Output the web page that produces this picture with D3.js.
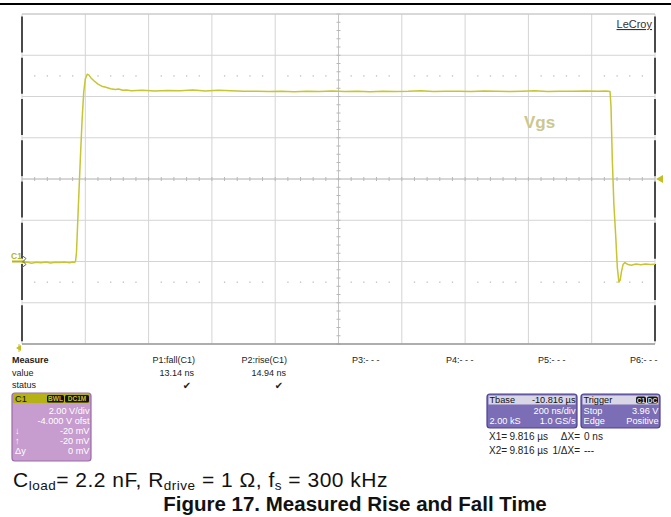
<!DOCTYPE html>
<html>
<head>
<meta charset="utf-8">
<script src="https://cdn.jsdelivr.net/npm/d3@7"></script>
<style>
  body{margin:0;background:#fff;}
  svg{display:block;font-family:"Liberation Sans",Arial,sans-serif;}
</style>
</head>
<body>
<svg id="scope" width="671" height="517"></svg>
<script>
/* ----- data ------------------------------------------------- */
// time in ns from left edge of screen (200 ns/div), volts (2 V/div, -4 V offset)
const traceT = [0,15,30,45,60,75,90,105,120,135,150,160,166,169,172,175,180,185,190,195,200,206,211,218,228,240,252,265,280,295,305,318,330,345,
  380,420,460,500,540,580,620,660,700,740,780,820,860,900,940,980,1020,1060,1100,1140,1180,1220,1260,1300,1340,1380,1420,
  1460,1500,1540,1580,1620,1660,1700,1740,1780,1820,1845,1858,1861,1865,1870,1876,1881,1886,1890,1894,1899,1905,1915,1925,1940,1955,1970,1985,2000];
const traceV = [-0.05,-0.02,-0.08,-0.04,-0.06,-0.02,-0.07,-0.04,-0.05,-0.03,-0.06,-0.02,-0.04,0.0,0.4,1.5,3.4,5.2,6.9,8.2,8.85,9.08,9.05,8.9,8.75,8.6,8.5,8.45,8.38,8.34,8.36,8.3,8.31,8.28,
  8.3,8.27,8.29,8.28,8.31,8.27,8.3,8.28,8.25,8.26,8.24,8.25,8.23,8.26,8.24,8.27,8.24,8.25,8.23,8.26,8.24,8.25,8.28,8.24,8.25,8.26,8.24,
  8.27,8.25,8.24,8.26,8.28,8.24,8.26,8.25,8.27,8.26,8.27,8.24,7.5,5.0,2.8,1.2,-0.3,-1.0,-0.9,-0.5,-0.15,-0.05,-0.15,-0.18,-0.12,-0.16,-0.12,-0.15,-0.13];

const markerLevels = [9, -1];            // dotted level rows
const measHeads  = ['P1:fall(C1)','P2:rise(C1)','P3:- - -','P4:- - -','P5:- - -','P6:- - -'];
const measValues = ['13.14 ns','14.94 ns','','','',''];
const measOk     = [true,true,false,false,false,false];
const rowLabels  = ['Measure','value','status'];
const c1Rows     = [['','2.00 V/div'],['','-4.000 V ofst'],['↓','-20 mV'],['↑','-20 mV'],['Δy','0 mV']];
const tbaseRows  = [['Tbase','-10.816 µs'],['','200 ns/div'],['2.00 kS','1.0 GS/s']];
const trigRows   = [['Trigger',''],['Stop','3.96 V'],['Edge','Positive']];
const cursorRows = [['X1=','9.816 µs','ΔX=','0 ns'],['X2=','9.816 µs','1/ΔX=','---']];
const captionParts = [['C',0],['load',1],['= 2.2 nF, R',0],['drive',1],[' = 1 Ω, f',0],['s',1],[' = 300 kHz',0]];

/* ----- setup ------------------------------------------------ */
const svg = d3.select('#scope');
const L = 22, R = 655, T = 14, B = 344;
const x = d3.scaleLinear().domain([0,2000]).range([L,R]);
const y = d3.scaleLinear().domain([-4,12]).range([B,T]);
const TRACE = '#c6c534';

svg.append('line').attr('x1',0).attr('x2',671).attr('y1',4).attr('y2',4)
  .attr('stroke','#000').attr('stroke-width',2);

/* grid */
const g = svg.append('g');
g.selectAll('.vg').data(x.ticks(10)).join('line')
  .attr('x1',d=>x(d)).attr('x2',d=>x(d)).attr('y1',T).attr('y2',B)
  .attr('stroke','#d4d4d4').attr('stroke-width',1);
g.selectAll('.hg').data(y.ticks(8)).join('line')
  .attr('x1',L).attr('x2',R).attr('y1',d=>y(d)).attr('y2',d=>y(d))
  .attr('stroke','#d4d4d4').attr('stroke-width',1);

/* centre axes with minor ticks */
g.append('line').attr('x1',x(1000)).attr('x2',x(1000)).attr('y1',T).attr('y2',B)
  .attr('stroke','#c4c4c4');
g.append('line').attr('x1',L).attr('x2',R).attr('y1',y(4)).attr('y2',y(4))
  .attr('stroke','#c4c4c4');
g.selectAll('.ty').data(d3.range(-4,12.01,0.4)).join('line')
  .attr('x1',x(1000)-2).attr('x2',x(1000)+2).attr('y1',d=>y(d)).attr('y2',d=>y(d))
  .attr('stroke','#b8b8b8');
g.selectAll('.tx').data(d3.range(0,2000.1,40)).join('line')
  .attr('x1',d=>x(d)).attr('x2',d=>x(d)).attr('y1',y(4)-2).attr('y2',y(4)+2)
  .attr('stroke','#b8b8b8');

/* dotted level rows */
const minor = d3.range(0,2000,40).filter(t=>t%200!==0);
markerLevels.forEach(v=>{
  g.selectAll(null).data(minor).join('rect')
    .attr('x',d=>x(d)-0.6).attr('y',y(v)-0.6).attr('width',1.3).attr('height',1.3)
    .attr('fill','#bdbdbd');
});

/* frame */
g.append('line').attr('x1',L).attr('x2',R).attr('y1',T).attr('y2',T).attr('stroke','#c8c8c8');
g.append('line').attr('x1',L).attr('x2',R).attr('y1',B).attr('y2',B).attr('stroke','#9a9a9a').attr('stroke-width',1.5);
[L,R].forEach(px=>{
  g.append('line').attr('x1',px).attr('x2',px).attr('y1',T).attr('y2',B)
    .attr('stroke','#4a4a4a').attr('stroke-width',2).attr('stroke-dasharray','36,5.25')
    .attr('stroke-dashoffset',-2.6);
});

/* trace */
const pts = traceT.map((t,i)=>[t,traceV[i]]);
svg.append('path').datum(pts)
  .attr('fill','none').attr('stroke',TRACE).attr('stroke-width',1.5)
  .attr('stroke-linejoin','round')
  .attr('d',d3.line().x(d=>x(d[0])).y(d=>y(d[1])));

/* labels on screen */
svg.append('text').attr('x',524).attr('y',128).text('Vgs')
  .style('font-size','17px').style('font-weight','bold').style('fill','#cbc78f');
svg.append('text').attr('x',652).attr('y',28).attr('text-anchor','end').text('LeCroy')
  .style('font-size','11px').style('fill','#333').style('text-decoration','underline');

/* C1 ground marker */
svg.append('text').attr('x',11).attr('y',259).text('C1')
  .style('font-size','8.5px').style('font-weight','bold').style('fill','#b5b51c');
svg.append('line').attr('x1',12).attr('x2',25).attr('y1',y(0)).attr('y2',y(0))
  .attr('stroke','#b5b51c').attr('stroke-width',2);
svg.append('path').attr('d',`M22,${y(0)-6} L26,${y(0)-3} L23,${y(0)} L26,${y(0)+3} L22,${y(0)+6}`)
  .attr('fill','none').attr('stroke','#666').attr('stroke-width',1);

/* trigger markers */
svg.append('path').attr('d',`M${R+1},${y(4)} L${R+8},${y(4)-4} L${R+8},${y(4)+4}Z`).attr('fill','#c2c020');
svg.append('path').attr('d',`M16,348 L21,345 L21,351Z`).attr('fill','#c2c020');
svg.append('line').attr('x1',19).attr('x2',19).attr('y1',344).attr('y2',352).attr('stroke','#c2c020');

/* ----- measure table ---------------------------------------- */
const fs = '9px', bfs = '9.2px';
rowLabels.forEach((t,i)=>{
  svg.append('text').attr('x',12).attr('y',363+i*12.5).text(t)
    .style('font-size',fs).style('font-weight',i===0?'bold':'normal').style('fill','#222');
});
const colEnd = [195,287];
const colStart = [352,446,538,630];
measHeads.forEach((h,i)=>{
  if(i<2){
    svg.append('text').attr('x',colEnd[i]).attr('y',363).attr('text-anchor','end').text(h)
      .style('font-size',fs).style('fill','#222');
    svg.append('text').attr('x',colEnd[i]-1).attr('y',375.5).attr('text-anchor','end').text(measValues[i])
      .style('font-size',fs).style('fill','#222');
    if(measOk[i]) svg.append('text').attr('x',colEnd[i]-8).attr('y',389).attr('text-anchor','middle').text('✔')
      .style('font-size','10px').style('font-family','DejaVu Sans').style('fill','#222');
  } else {
    svg.append('text').attr('x',colStart[i-2]).attr('y',363).text(h)
      .style('font-size',fs).style('fill','#222');
  }
});

/* ----- channel box ------------------------------------------ */
const c1 = svg.append('g');
c1.append('rect').attr('x',12).attr('y',393).attr('width',79).attr('height',68).attr('rx',3)
  .attr('fill','#c79ccf').attr('stroke','#9b6aa8').attr('stroke-width',1.2);
c1.append('rect').attr('x',13).attr('y',394).attr('width',77).attr('height',9).attr('fill','#b4b214');
c1.append('text').attr('x',15).attr('y',401.5).text('C1').style('font-size',bfs).style('fill','#111');
[['BWL',47,17],['DC1M',65,24]].forEach(([t,bx,bw])=>{
  c1.append('rect').attr('x',bx).attr('y',395).attr('width',bw).attr('height',7.5).attr('rx',1.5).attr('fill','#111');
  c1.append('text').attr('x',bx+bw/2).attr('y',401.3).attr('text-anchor','middle').text(t)
    .style('font-size','6.5px').style('font-weight','bold').style('fill','#c8c030');
});
c1Rows.forEach(([a,b],i)=>{
  const yy = 413.5+i*10.1;
  if(a) c1.append('text').attr('x',15).attr('y',yy).text(a).style('font-size',bfs).style('fill','#fff');
  c1.append('text').attr('x',89.5).attr('y',yy).attr('text-anchor','end').text(b)
    .style('font-size',bfs).style('fill','#fff');
});

/* ----- timebase / trigger boxes ----------------------------- */
function infoBox(bx,bw,rows){
  const b = svg.append('g');
  b.append('rect').attr('x',bx).attr('y',394).attr('width',bw).attr('height',34).attr('rx',3)
    .attr('fill','#7b6db6').attr('stroke','#4e4290').attr('stroke-width',1.2);
  b.append('rect').attr('x',bx+1.5).attr('y',395.5).attr('width',bw-3).attr('height',9).attr('fill','#d9d6e6');
  rows.forEach(([a,c],i)=>{
    const yy = 403+i*10.5, col = i===0?'#111':'#fff';
    b.append('text').attr('x',bx+2.5).attr('y',yy).text(a).style('font-size',bfs).style('fill',col);
    b.append('text').attr('x',bx+bw-1.5).attr('y',yy).attr('text-anchor','end').text(c)
      .style('font-size',bfs).style('fill',col);
  });
  return b;
}
infoBox(487,90,tbaseRows);
const tb = infoBox(581,79,trigRows);
[['C1',636,10],['DC',647,11]].forEach(([t,bx,bw])=>{
  tb.append('rect').attr('x',bx).attr('y',396.5).attr('width',bw).attr('height',7).attr('rx',2).attr('fill','#111');
  tb.append('text').attr('x',bx+bw/2).attr('y',402.5).attr('text-anchor','middle').text(t)
    .style('font-size','6.5px').style('font-weight','bold').style('fill','#ddd');
});
cursorRows.forEach((r,i)=>{
  const yy = 439.5+i*14.5;
  const pos = [[489,'start'],[548,'end'],[580,'end'],[584,'start']];
  r.forEach((t,k)=>{
    svg.append('text').attr('x',pos[k][0]).attr('y',yy).attr('text-anchor',pos[k][1])
      .text(t).style('font-size','10px').style('fill','#222');
  });
});

/* ----- caption ---------------------------------------------- */
const cap = svg.append('text').attr('x',13).attr('y',486.5).style('font-size','21px')
  .style('letter-spacing','0.5px').style('fill','#111');
let prevSub = 0;
captionParts.forEach(([t,sub])=>{
  cap.append('tspan').text(t).attr('dy',(sub-prevSub)*3.5)
    .style('font-size',sub?'13.5px':'21px');
  prevSub = sub;
});
svg.append('text').attr('x',355).attr('y',511).attr('text-anchor','middle')
  .text('Figure 17. Measured Rise and Fall Time')
  .style('font-size','20.5px').style('font-weight','bold').style('fill','#111');
</script>
</body>
</html>
